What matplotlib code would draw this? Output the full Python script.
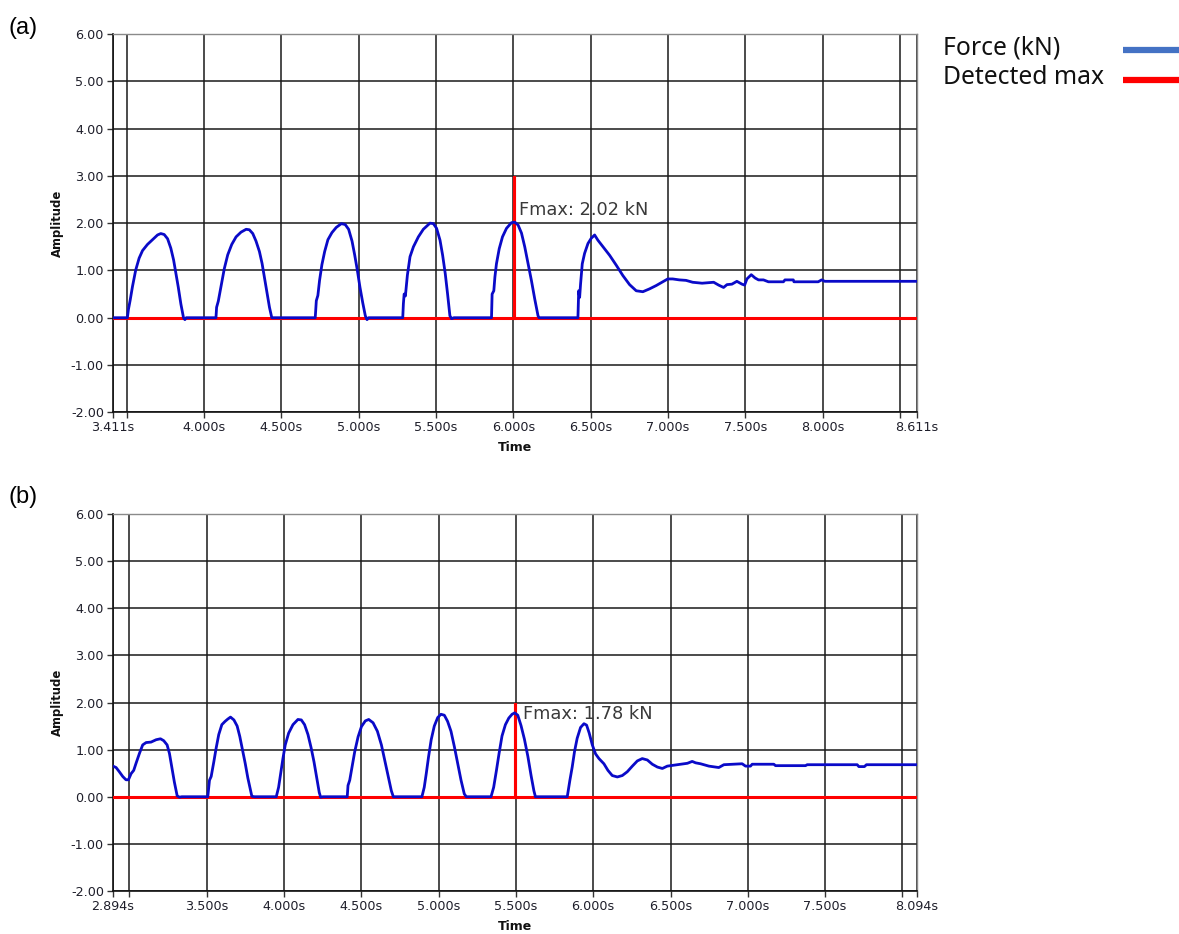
import matplotlib
matplotlib.use("Agg")
import matplotlib.pyplot as plt
from matplotlib.lines import Line2D

# ---------------- data ----------------
time_a = [3.411, 3.504, 3.511, 3.522, 3.537, 3.558, 3.580, 3.602, 3.634, 3.666, 3.699, 3.720, 3.742,
          3.764, 3.785, 3.803, 3.818, 3.833, 3.850, 3.867, 3.876, 3.885,
          4.077, 4.081, 4.092, 4.109, 4.131, 4.153, 4.179, 4.207, 4.239, 4.272, 4.293, 4.315, 4.336,
          4.358, 4.375, 4.390, 4.408, 4.423, 4.438,
          4.719, 4.726, 4.736, 4.747, 4.762, 4.780, 4.801, 4.827, 4.855, 4.888, 4.913, 4.935, 4.957,
          4.974, 4.991, 5.008, 5.026, 5.043, 5.054, 5.065,
          5.285, 5.289, 5.294, 5.302, 5.315, 5.332, 5.354, 5.386, 5.418, 5.461, 5.483, 5.504, 5.526,
          5.543, 5.560, 5.575, 5.590, 5.601, 5.616,
          5.859, 5.863, 5.874, 5.881, 5.891, 5.909, 5.930, 5.956, 5.988, 6.010, 6.031, 6.053, 6.074,
          6.096, 6.117, 6.139, 6.160, 6.167,
          6.418, 6.423, 6.429, 6.435, 6.446, 6.461, 6.483, 6.504, 6.526, 6.547, 6.580, 6.623, 6.666,
          6.709, 6.752, 6.795, 6.838, 6.881, 6.924, 6.967, 6.999, 7.031, 7.074, 7.117, 7.160, 7.221,
          7.296, 7.328, 7.360, 7.382, 7.414, 7.446, 7.479, 7.496, 7.511, 7.539, 7.564, 7.586, 7.618,
          7.650, 7.747, 7.757, 7.811, 7.815, 7.972, 7.994, 8.015, 8.611]
force_a = [0, 0, 0.18, 0.37, 0.66, 1.01, 1.26, 1.42, 1.55, 1.65, 1.75, 1.78, 1.76,
           1.67, 1.47, 1.22, 0.94, 0.65, 0.29, 0, -0.04, 0,
           0, 0.22, 0.35, 0.65, 1.04, 1.33, 1.55, 1.71, 1.81, 1.87, 1.86, 1.78, 1.62,
           1.40, 1.15, 0.86, 0.50, 0.22, 0,
           0, 0.36, 0.47, 0.79, 1.12, 1.40, 1.65, 1.80, 1.91, 1.99, 1.97, 1.87, 1.62,
           1.33, 1.01, 0.65, 0.32, 0.04, -0.04, 0,
           0, 0.29, 0.50, 0.46, 0.90, 1.29, 1.50, 1.71, 1.87, 2.00, 1.99, 1.89, 1.64,
           1.32, 0.93, 0.50, 0.04, -0.02, 0,
           0, 0.50, 0.57, 0.86, 1.14, 1.46, 1.71, 1.89, 2.01, 2.02, 1.96, 1.79, 1.50,
           1.14, 0.79, 0.39, 0.04, 0,
           0, 0.57, 0.43, 0.71, 1.14, 1.36, 1.57, 1.68, 1.75, 1.64, 1.50, 1.32, 1.11,
           0.89, 0.70, 0.57, 0.55, 0.61, 0.68, 0.76, 0.82, 0.82, 0.80, 0.79, 0.75, 0.73,
           0.75, 0.69, 0.64, 0.70, 0.71, 0.77, 0.71, 0.69, 0.82, 0.91, 0.84, 0.80, 0.80,
           0.76, 0.76, 0.80, 0.80, 0.76, 0.76, 0.80, 0.77, 0.77]

time_b = [2.894, 2.914, 2.935, 2.957, 2.978, 2.994, 3.011, 3.028, 3.043, 3.065, 3.086, 3.108, 3.140,
          3.173, 3.201, 3.222, 3.244, 3.259, 3.274, 3.291, 3.309, 3.324, 3.339,
          3.507, 3.518, 3.529, 3.546, 3.561, 3.578, 3.598, 3.619, 3.637, 3.654, 3.676, 3.697, 3.714,
          3.732, 3.749, 3.766, 3.784, 3.792, 3.809,
          3.950, 3.965, 3.978, 3.993, 4.008, 4.030, 4.058, 4.090, 4.112, 4.133, 4.155, 4.176, 4.194,
          4.211, 4.228, 4.237, 4.252,
          4.409, 4.414, 4.425, 4.440, 4.457, 4.479, 4.501, 4.526, 4.548, 4.576, 4.604, 4.630, 4.651,
          4.673, 4.694, 4.707,
          4.892, 4.907, 4.920, 4.935, 4.952, 4.972, 4.994, 5.015, 5.037, 5.058, 5.080, 5.102, 5.123,
          5.145, 5.166, 5.179,
          5.339, 5.356, 5.374, 5.391, 5.410, 5.432, 5.454, 5.475, 5.492, 5.512, 5.533, 5.555, 5.577,
          5.598, 5.616, 5.626,
          5.832, 5.849, 5.864, 5.879, 5.896, 5.918, 5.940, 5.957, 5.974, 5.994, 6.015, 6.037, 6.069,
          6.095, 6.123, 6.156, 6.188, 6.220, 6.253, 6.285, 6.317, 6.350, 6.382, 6.415, 6.447, 6.479,
          6.523, 6.566, 6.609, 6.640, 6.662, 6.694, 6.748, 6.812, 6.845, 6.963, 6.985, 7.017, 7.028,
          7.168, 7.179, 7.373, 7.384, 7.707, 7.718, 7.754, 7.767, 8.094]
force_b = [0.65, 0.62, 0.53, 0.43, 0.36, 0.36, 0.49, 0.56, 0.71, 0.92, 1.10, 1.15, 1.16,
           1.21, 1.23, 1.19, 1.10, 0.92, 0.63, 0.31, 0.02, -0.01, 0,
           0, 0.35, 0.43, 0.74, 1.03, 1.32, 1.53, 1.60, 1.65, 1.69, 1.63, 1.50, 1.28,
           0.99, 0.71, 0.40, 0.13, 0.01, 0,
           0, 0.20, 0.49, 0.81, 1.10, 1.35, 1.53, 1.64, 1.63, 1.53, 1.32, 1.03, 0.74,
           0.42, 0.09, -0.01, 0,
           0, 0.24, 0.35, 0.63, 0.95, 1.27, 1.49, 1.61, 1.64, 1.57, 1.39, 1.10, 0.78,
           0.45, 0.13, 0,
           0, 0.20, 0.49, 0.85, 1.21, 1.50, 1.68, 1.75, 1.73, 1.60, 1.39, 1.06, 0.71,
           0.35, 0.06, 0,
           0, 0.20, 0.56, 0.92, 1.29, 1.53, 1.67, 1.75, 1.78, 1.73, 1.51, 1.22, 0.86,
           0.45, 0.13, 0,
           0, 0.35, 0.63, 0.96, 1.24, 1.47, 1.55, 1.52, 1.35, 1.10, 0.91, 0.81, 0.70,
           0.56, 0.45, 0.42, 0.45, 0.53, 0.65, 0.76, 0.81, 0.78, 0.69, 0.63, 0.60, 0.65,
           0.67, 0.69, 0.71, 0.75, 0.72, 0.70, 0.65, 0.62, 0.68, 0.70, 0.65, 0.65, 0.69,
           0.69, 0.66, 0.66, 0.68, 0.68, 0.64, 0.64, 0.68, 0.68]

# detected max (time, marker height, label value)
max_time_a, max_mark_a, fmax_a = 6.005, 3.0, 2.02
max_time_b, max_mark_b, fmax_b = 5.497, 2.0, 1.78

xticks_a = [3.411, 3.5, 4.0, 4.5, 5.0, 5.5, 6.0, 6.5, 7.0, 7.5, 8.0, 8.5, 8.611]
xticks_b = [2.894, 3.0, 3.5, 4.0, 4.5, 5.0, 5.5, 6.0, 6.5, 7.0, 7.5, 8.0, 8.094]
hidden_a = [3.5, 8.5]
hidden_b = [3.0, 8.0]
yticks = [-2, -1, 0, 1, 2, 3, 4, 5, 6]

panel_labels = ["(a)", "(b)"]
legend_labels = ["Force (kN)", "Detected max"]

# ---------------- style ----------------
W, H = 1179, 934
fig = plt.figure(figsize=(W / 100, H / 100), dpi=100)
fig.patch.set_facecolor("white")

BLUE = "#0a0ac8"
RED = "#ff0000"
GRID = "#1a1a1a"


def px_box(l, t, r, b):
    return [l / W, 1 - b / H, (r - l) / W, (b - t) / H]


def draw_panel(rect, tt, ff, tmax, mark, fmax, xticks, hidden, txt_xy):
    ax = fig.add_axes(rect)
    x0, x1 = xticks[0], xticks[-1]
    # detected max series (zero line + spike)
    ax.plot([x0, tmax, tmax, tmax, x1], [0, 0, mark, 0, 0], color=RED, lw=2.2,
            solid_joinstyle="miter", zorder=3)
    ax.plot(tt, ff, color=BLUE, lw=2.0, zorder=4)
    ax.set_xlim(x0, x1)
    ax.set_ylim(-2, 6)
    ax.set_xticks(xticks)
    ax.set_xticklabels(["" if v in hidden else f"{v:.3f}s" for v in xticks])
    ax.set_yticks(yticks)
    ax.set_yticklabels([f"{v:.2f}" for v in yticks])
    ax.grid(True, color=GRID, lw=1.1, zorder=1)
    ax.set_axisbelow(True)
    ax.tick_params(axis="both", direction="out", length=4, width=1.0, color="#333333",
                   labelsize=9.2, labelcolor="#1e1e2a", pad=2.5)
    for s in ("left", "bottom"):
        ax.spines[s].set_color("#111111")
        ax.spines[s].set_linewidth(1.2)
    for s in ("top", "right"):
        ax.spines[s].set_color("#8a8a8a")
        ax.spines[s].set_linewidth(1.0)
    ax.text(-0.0697, 0.5, "Amplitude", transform=ax.transAxes, rotation=90,
            ha="center", va="center", fontsize=8.4, fontweight="bold", color="#111111")
    ax.text(0.5, -0.094, "Time", transform=ax.transAxes, ha="center", va="center",
            fontsize=9.0, fontweight="bold", color="#111111")
    ax.text(txt_xy[0], txt_xy[1], f"Fmax: {fmax:.2f} kN", fontsize=12.8,
            color="#3a3a3a", ha="left", va="baseline", zorder=5)
    return ax


draw_panel(px_box(113, 34, 917, 412.3), time_a, force_a, max_time_a, max_mark_a, fmax_a,
           xticks_a, hidden_a, (max_time_a + 0.035, 2.17))
draw_panel(px_box(113, 514, 917, 891), time_b, force_b, max_time_b, max_mark_b, fmax_b,
           xticks_b, hidden_b, (max_time_b + 0.048, 1.64))

# panel labels
fig.text(23 / W, 1 - 28 / H, panel_labels[0], fontsize=17, family="Liberation Sans",
         ha="center", va="center")
fig.text(23 / W, 1 - 497 / H, panel_labels[1], fontsize=17, family="Liberation Sans",
         ha="center", va="center")

# legend (top right)
fig.text(943 / W, 1 - 48 / H, legend_labels[0], fontsize=17.8, family="Noto Sans",
         ha="left", va="center", color="#111111")
fig.text(943 / W, 1 - 78 / H, legend_labels[1], fontsize=17.8, family="Noto Sans",
         ha="left", va="center", color="#111111")
fig.add_artist(Line2D([1123 / W, 1.0], [1 - 50 / H, 1 - 50 / H], color="#4472c4", lw=4.5,
                      solid_capstyle="butt"))
fig.add_artist(Line2D([1123 / W, 1.0], [1 - 80 / H, 1 - 80 / H], color=RED, lw=4.5,
                      solid_capstyle="butt"))

fig.savefig("out.png", dpi=100, facecolor="white")
